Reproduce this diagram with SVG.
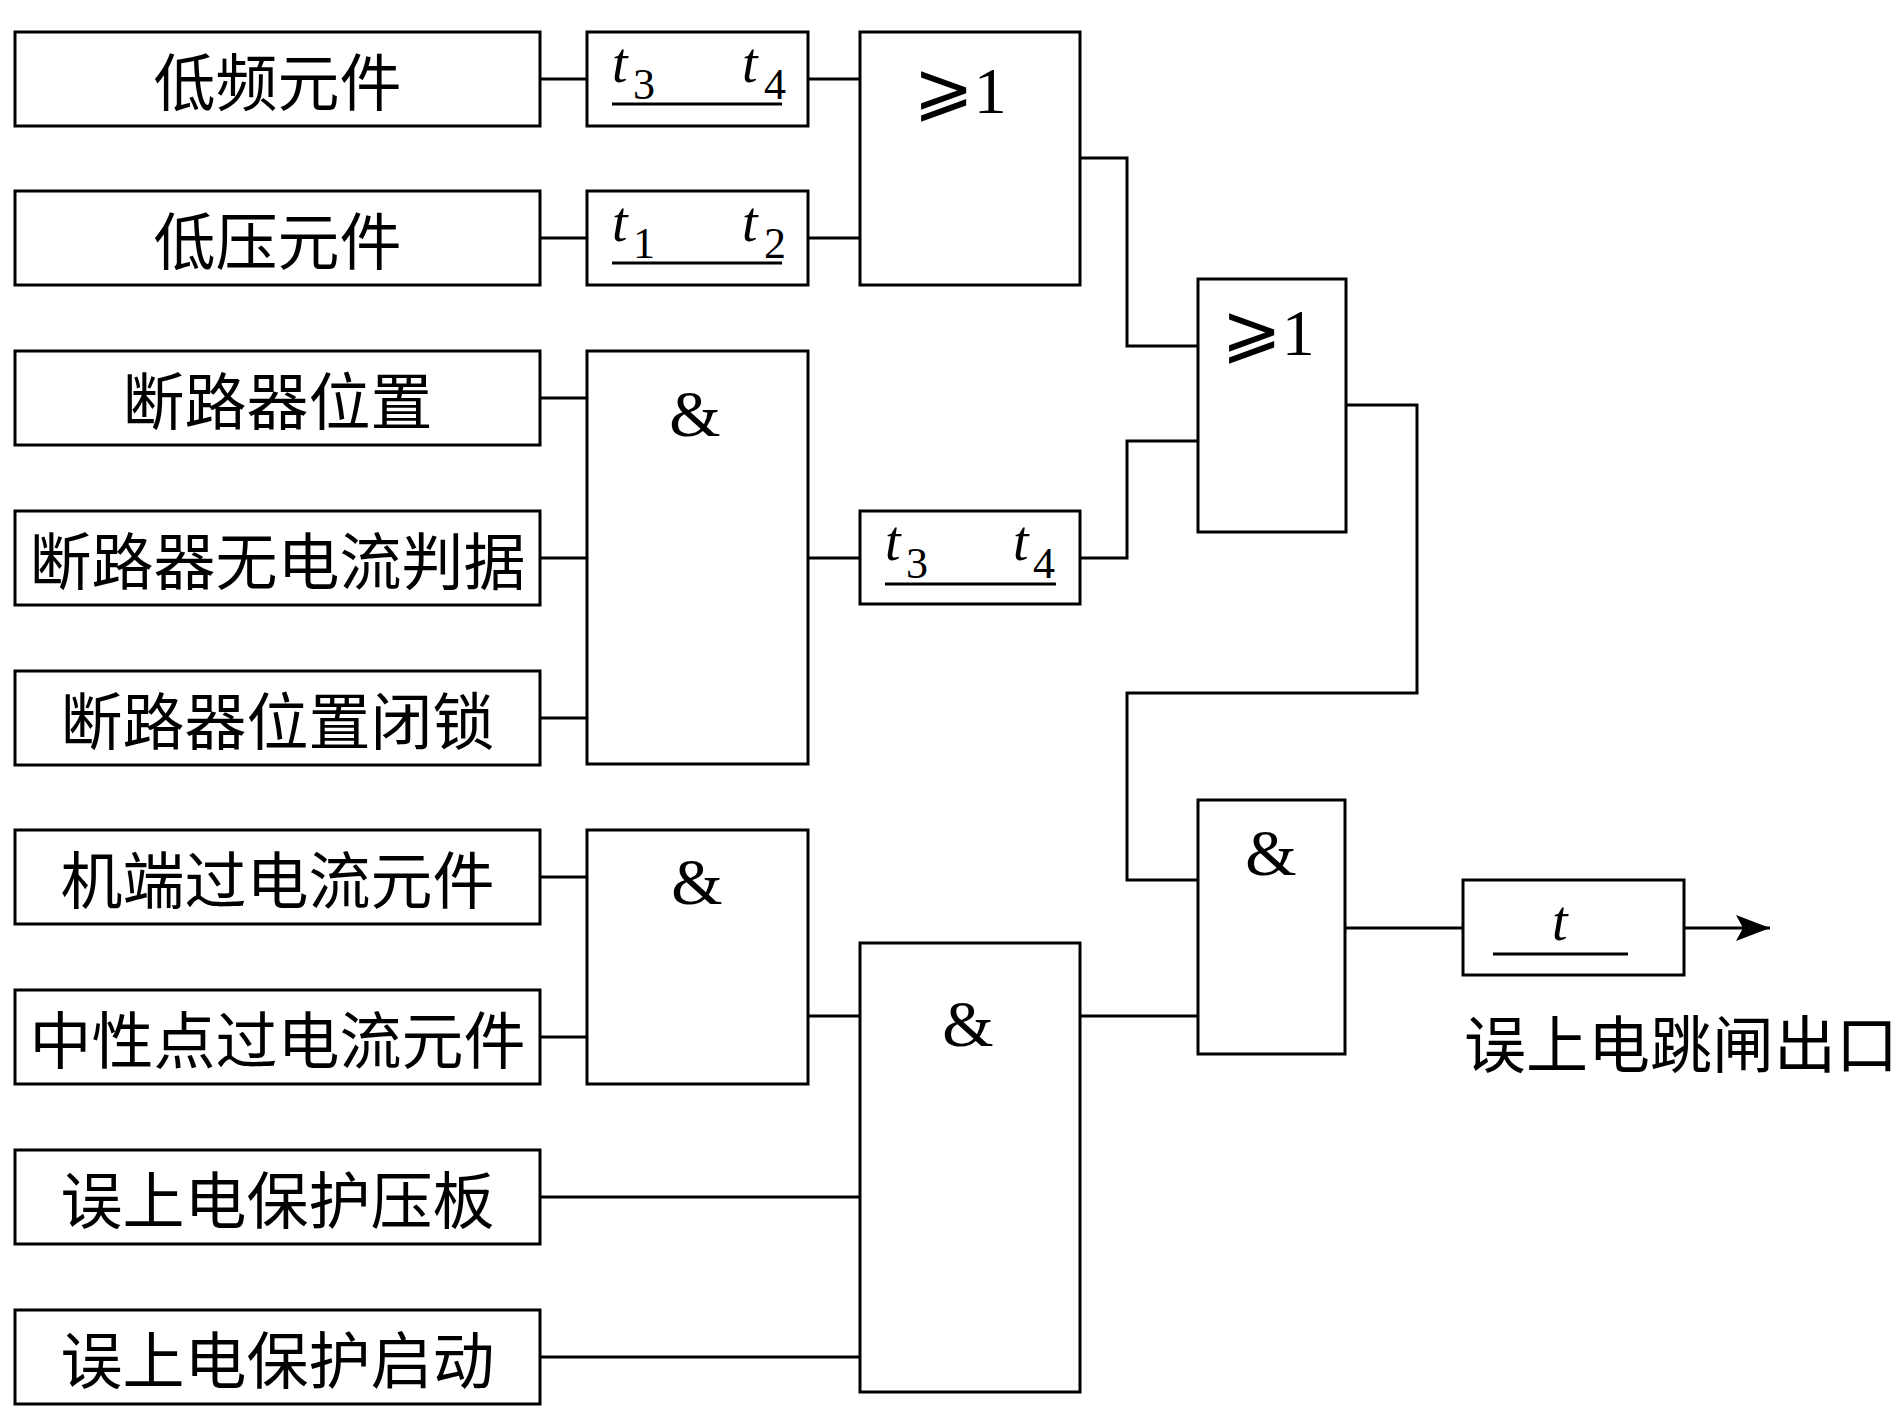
<svg xmlns="http://www.w3.org/2000/svg" width="1903" height="1422" viewBox="0 0 1903 1422">
<style>
.box{fill:#fff;stroke:#000;stroke-width:3}
.ln{fill:none;stroke:#000;stroke-width:3}
.cn{font-family:"Noto Sans CJK SC","Noto Sans CJK JP",sans-serif;font-size:62px;fill:#000;text-anchor:middle;dominant-baseline:central}
.ti{font-family:"Liberation Serif",serif;font-style:italic;font-size:56px;fill:#000}
.sub{font-family:"Liberation Serif",serif;font-size:44px;fill:#000}
.op{font-family:"Liberation Serif",serif;font-size:66px;fill:#000;text-anchor:middle}
.ge{font-family:"DejaVu Serif","DejaVu Sans",serif;font-size:72px}
</style>
<defs>
<marker id="arr" markerWidth="40" markerHeight="30" refX="34" refY="13" orient="auto" markerUnits="userSpaceOnUse">
<path d="M34,13 L0,0 L7,13 L0,26 Z" fill="#000"/>
</marker>
</defs>
<rect width="1903" height="1422" fill="#fff"/>

<g id="connectors">
<path class="ln" d="M540,79H587M808,79H860"/>
<path class="ln" d="M540,238H587M808,238H860"/>
<path class="ln" d="M1080,158H1127V346H1198"/>
<path class="ln" d="M540,398H587M540,558H587M540,718H587"/>
<path class="ln" d="M808,558H860"/>
<path class="ln" d="M1080,558H1127V441H1198"/>
<path class="ln" d="M1346,405H1417V693H1127V880H1198"/>
<path class="ln" d="M540,877H587M540,1037H587"/>
<path class="ln" d="M808,1016H860"/>
<path class="ln" d="M540,1197H860M540,1357H860"/>
<path class="ln" d="M1080,1016H1198"/>
<path class="ln" d="M1345,928H1463"/>
<path class="ln" d="M1684,928H1770" marker-end="url(#arr)"/>
</g>

<g id="in1"><rect class="box" x="15" y="32" width="525" height="94"/><text class="cn" x="277.5" y="79">低频元件</text></g>
<g id="in2"><rect class="box" x="15" y="191" width="525" height="94"/><text class="cn" x="277.5" y="238">低压元件</text></g>
<g id="in3"><rect class="box" x="15" y="351" width="525" height="94"/><text class="cn" x="277.5" y="398">断路器位置</text></g>
<g id="in4"><rect class="box" x="15" y="511" width="525" height="94"/><text class="cn" x="277.5" y="558">断路器无电流判据</text></g>
<g id="in5"><rect class="box" x="15" y="671" width="525" height="94"/><text class="cn" x="277.5" y="718">断路器位置闭锁</text></g>
<g id="in6"><rect class="box" x="15" y="830" width="525" height="94"/><text class="cn" x="277.5" y="877">机端过电流元件</text></g>
<g id="in7"><rect class="box" x="15" y="990" width="525" height="94"/><text class="cn" x="277.5" y="1037">中性点过电流元件</text></g>
<g id="in8"><rect class="box" x="15" y="1150" width="525" height="94"/><text class="cn" x="277.5" y="1197">误上电保护压板</text></g>
<g id="in9"><rect class="box" x="15" y="1310" width="525" height="94"/><text class="cn" x="277.5" y="1357">误上电保护启动</text></g>

<g id="delay1">
<rect class="box" x="587" y="32" width="221" height="94"/>
<text class="ti" x="612" y="82">t</text><text class="sub" x="633" y="99">3</text>
<text class="ti" x="742" y="82">t</text><text class="sub" x="764" y="99">4</text>
<path class="ln" d="M612,104H782"/>
</g>
<g id="delay2">
<rect class="box" x="587" y="191" width="221" height="94"/>
<text class="ti" x="612" y="241">t</text><text class="sub" x="633" y="258">1</text>
<text class="ti" x="742" y="241">t</text><text class="sub" x="764" y="258">2</text>
<path class="ln" d="M612,263H782"/>
</g>
<g id="or1">
<rect class="box" x="860" y="32" width="220" height="253"/>
<text class="op" x="960" y="113"><tspan class="ge">⩾</tspan>1</text>
</g>
<g id="and1">
<rect class="box" x="587" y="351" width="221" height="413"/>
<text class="op" x="695" y="436">&amp;</text>
</g>
<g id="delay3">
<rect class="box" x="860" y="511" width="220" height="93"/>
<text class="ti" x="885" y="560">t</text><text class="sub" x="906" y="578">3</text>
<text class="ti" x="1013" y="560">t</text><text class="sub" x="1033" y="578">4</text>
<path class="ln" d="M885,584H1056"/>
</g>
<g id="or2">
<rect class="box" x="1198" y="279" width="148" height="253"/>
<text class="op" x="1268" y="355"><tspan class="ge">⩾</tspan>1</text>
</g>
<g id="and2">
<rect class="box" x="587" y="830" width="221" height="254"/>
<text class="op" x="697" y="904">&amp;</text>
</g>
<g id="and3">
<rect class="box" x="860" y="943" width="220" height="449"/>
<text class="op" x="968" y="1046">&amp;</text>
</g>
<g id="and4">
<rect class="box" x="1198" y="800" width="147" height="254"/>
<text class="op" x="1271" y="875">&amp;</text>
</g>
<g id="delayOut">
<rect class="box" x="1463" y="880" width="221" height="95"/>
<text class="ti" x="1552" y="940">t</text>
<path class="ln" d="M1493,954H1628"/>
</g>
<g id="outLabel">
<text class="cn" x="1464" y="1041" style="text-anchor:start">误上电跳闸出口</text>
</g>
</svg>
